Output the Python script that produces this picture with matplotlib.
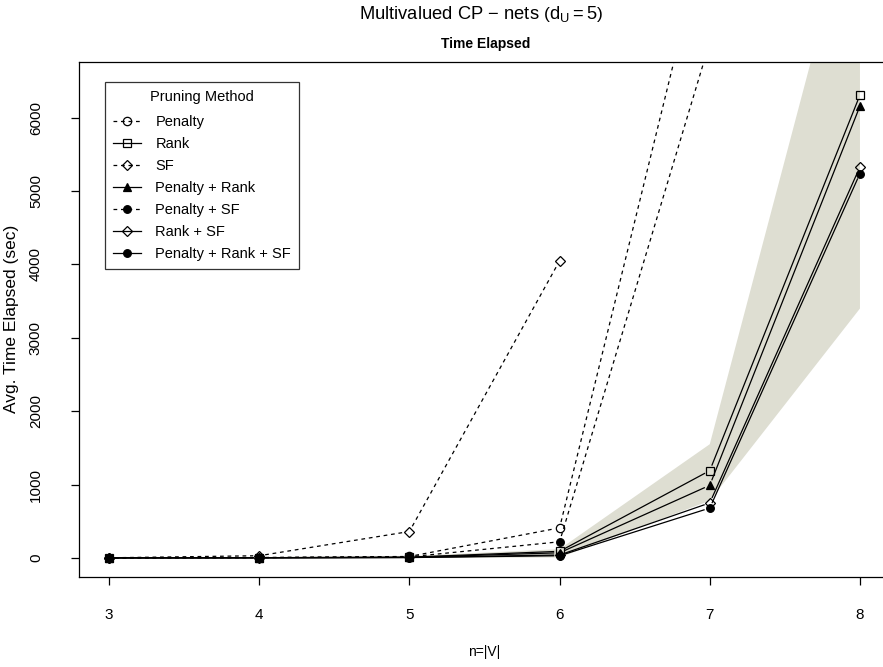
#!/usr/bin/python

"""
Time elapsed per pruning method, multivalued CP-nets
"""
import numpy as np
import matplotlib
matplotlib.use('Agg')
import matplotlib.pyplot as plt
from matplotlib.lines import Line2D

plt.rcParams['font.family'] = ['Liberation Sans', 'DejaVu Sans']
plt.rcParams['mathtext.fontset'] = 'custom'
plt.rcParams['mathtext.rm'] = 'Liberation Sans'
plt.rcParams['mathtext.it'] = 'Liberation Sans'

n_vars = [3, 4, 5, 6, 7, 8]

# avg time elapsed (sec); None = not run
penalty = [1, 5, 20, 410, 8760, None]
rank = [1, 3, 10, 90, 1190, 6310]
sf = [2, 30, 360, 4050, None, None]
penalty_rank = [1, 3, 8, 70, 990, 6160]
penalty_sf = [1, 4, 15, 220, 7030, None]
rank_sf = [1, 2, 6, 40, 750, 5330]
penalty_rank_sf = [1, 2, 5, 30, 680, 5240]

band_lower = [0, 0, 0, 5, 780, 3400]
band_upper = [10, 12, 25, 120, 1550, 9300]

series = [
    ('Penalty', penalty, '--', 'o', 'none'),
    ('Rank', rank, '-', 's', 'none'),
    ('SF', sf, '--', 'D', 'none'),
    ('Penalty + Rank', penalty_rank, '-', '^', 'black'),
    ('Penalty + SF', penalty_sf, '--', 'o', 'black'),
    ('Rank + SF', rank_sf, '-', 'D', 'none'),
    ('Penalty + Rank + SF', penalty_rank_sf, '-', 'o', 'black'),
]


def gapped_line(ax, xs, ys, gap, **kw):
    # R type="b": segments stop short of the points
    pts = ax.transData.transform(np.column_stack([xs, ys]))
    inv = ax.transData.inverted()
    for p0, p1 in zip(pts[:-1], pts[1:]):
        d = p1 - p0
        length = np.hypot(*d)
        if length <= 2 * gap:
            continue
        u = d / length
        seg = inv.transform(np.array([p0 + u * gap, p1 - u * gap]))
        ax.plot(seg[:, 0], seg[:, 1], **kw)


def marker_size(mk, fc):
    if mk == 'D':
        return 5.5
    if mk == 'o' and fc == 'black':
        return 5.5
    return 6


def main():
    fig = plt.figure(figsize=(8.83, 6.67), dpi=100)
    ax = fig.add_axes([79 / 883, 1 - 577 / 667, 811 / 883, 515 / 667])
    ax.set_xlim(2.8, 8.2)
    ax.set_ylim(-260, 6760)

    ax.fill_between(n_vars, band_lower, band_upper, color='#DEDED2', lw=0, zorder=1)

    for label, vals, ls, mk, fc in series:
        xs = [x for x, v in zip(n_vars, vals) if v is not None]
        ys = [v for v in vals if v is not None]
        kw = dict(color='black', lw=0.9, zorder=2)
        if ls == '--':
            kw['dashes'] = (3, 3)
        gapped_line(ax, xs, ys, 6, **kw)
        ax.plot(xs, ys, ls='none', marker=mk, ms=marker_size(mk, fc), mfc=fc,
                mec='black', mew=0.9, zorder=3)

    handles = []
    for label, vals, ls, mk, fc in series:
        h = Line2D([], [], color='black', lw=0.9, marker=mk, mfc=fc, mec='black',
                   ms=marker_size(mk, fc), mew=0.9)
        if ls == '--':
            h.set_dashes((3, 3))
        h.set_label(label)
        handles.append(h)
    leg = ax.legend(handles=handles, title='Pruning Method', loc='upper left',
                    bbox_to_anchor=(0.032, 0.961), fontsize=10.5, title_fontsize=10.5,
                    frameon=True, fancybox=False, edgecolor='black',
                    handlelength=1.9, handletextpad=1.0, labelspacing=0.55,
                    borderpad=0.55, borderaxespad=0)
    leg.get_frame().set_linewidth(0.9)
    leg._legend_box.sep = 8

    ax.set_xticks(n_vars)
    ax.set_xticklabels([str(v) for v in n_vars])
    ax.set_yticks(range(0, 7000, 1000))
    ax.tick_params(axis='both', direction='out', length=6, width=0.9, labelsize=11)
    ax.tick_params(axis='x', pad=16)
    ax.tick_params(axis='y', pad=20)
    for t in ax.get_yticklabels():
        t.set_rotation(90)
        t.set_va('center')
    for s in ax.spines.values():
        s.set_linewidth(0.9)

    fig.text(486 / 883, 1 - 44 / 667, 'Time Elapsed', ha='center', va='center',
             fontsize=10, fontweight='bold')
    fig.text(481 / 883, 1 - 14 / 667, r'Multivalued CP $-$ nets $\left(\mathrm{d_U = 5}\right)$',
             ha='center', va='center', fontsize=13.2)
    fig.text(484 / 883, 1 - 652 / 667, 'n=|V|', ha='center', va='center', fontsize=10)
    fig.text(12 / 883, 1 - 319 / 667, 'Avg. Time Elapsed (sec)', ha='center', va='center',
             rotation=90, fontsize=12.5)

    fig.savefig('out.png', dpi=100)


if __name__ == '__main__':
    main()
